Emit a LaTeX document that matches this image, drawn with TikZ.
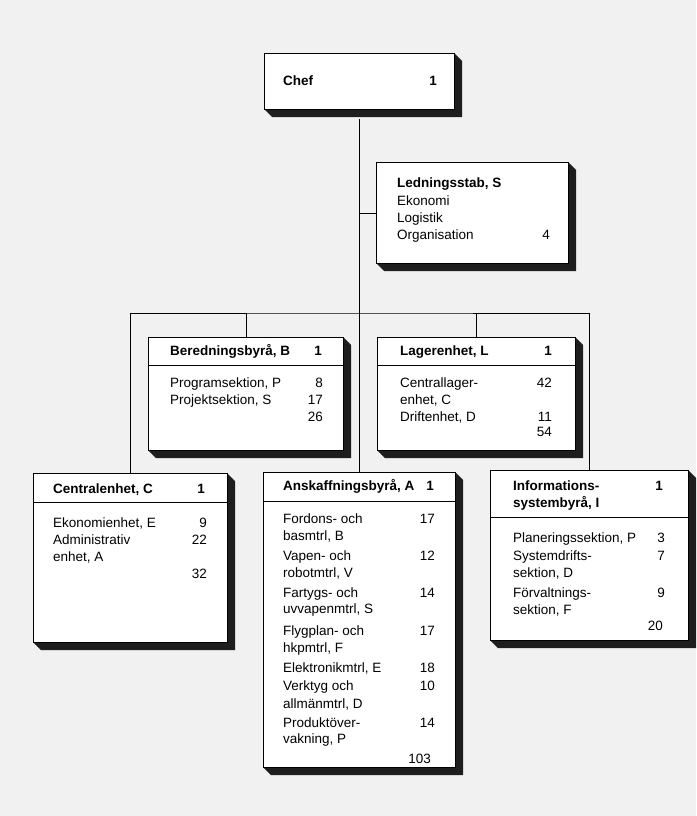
\documentclass[tikz,border=0pt]{standalone}
\usepackage{fontspec}
\setmainfont{Liberation Sans}
\usetikzlibrary{backgrounds}
\definecolor{paper}{HTML}{F1F1F1}
\definecolor{shadowc}{HTML}{1E1E1E}
\tikzset{
  orgbox/.style={draw, line width=1.1pt, fill=white, anchor=north west, inner sep=0pt},
  hdr/.style={line width=0.9pt},
  conn/.style={line width=0.8pt},
  ttl/.style={font=\fontsize{13.5pt}{16pt}\selectfont\bfseries, anchor=base west, inner sep=0pt},
  ttn/.style={font=\fontsize{13.5pt}{16pt}\selectfont\bfseries, anchor=base east, inner sep=0pt},
  txt/.style={font=\fontsize{13.5pt}{16pt}\selectfont, anchor=base west, inner sep=0pt},
  num/.style={font=\fontsize{13.5pt}{16pt}\selectfont, anchor=base east, inner sep=0pt}
}
% name, x, y, w, h
\newcommand\orgunit[5]{%
  \begin{scope}[on background layer]
    \fill[shadowc] (#2+#4,#3) -- (#2+#4+8,#3+8) -- (#2+#4+8,#3+#5+8) -- (#2+8,#3+#5+8) -- (#2,#3+#5) -- cycle;
  \end{scope}
  \node[orgbox, minimum width=#4pt, minimum height=#5pt] (#1) at (#2,#3) {};
}
\begin{document}
\begin{tikzpicture}[x=1pt,y=-1pt]
\begin{scope}[on background layer]
  \fill[paper] (0,0) rectangle (696,816);
\end{scope}
\useasboundingbox (0,0) rectangle (696,816);

% boxes
\orgunit{chef}{264}{53}{190}{56}
\orgunit{lstab}{376}{162}{192}{101}
\orgunit{bered}{148}{337}{195}{113}
\orgunit{lager}{377}{337}{198}{113}
\orgunit{central}{33}{473}{194}{169}
\orgunit{ansk}{263}{472}{192}{295}
\orgunit{info}{490}{470}{198}{170}

% header rules
\draw[hdr] (bered.west |- 0,365) -- (bered.east |- 0,365);
\draw[hdr] (lager.west |- 0,365) -- (lager.east |- 0,365);
\draw[hdr] (central.west |- 0,502) -- (central.east |- 0,502);
\draw[hdr] (ansk.west |- 0,501) -- (ansk.east |- 0,501);
\draw[hdr] (info.west |- 0,517) -- (info.east |- 0,517);

% connectors
\coordinate (bar) at (359,313);
\draw[conn] ([yshift=-9pt]chef.south) -- (ansk.north);
\draw[conn] (lstab.west) -- (lstab.west -| chef.south);
\draw[conn] (central.north) |- (bar) -| (info.north);
\draw[conn] (bered.north) -- (bered.north |- bar);
\draw[conn] (lager.north) -- (lager.north |- bar);

% Chef
\node[ttl] (chefT) at (283,85) {Chef};
\node[ttn] (chefN) at (437,85) {1};

% Ledningsstab
\node[ttl] (lsT) at (397,187) {Ledningsstab, S};
\node[txt] (ls1) at (397,205) {Ekonomi};
\node[txt] (ls2) at (397,222) {Logistik};
\node[txt] (ls3) at (397,239) {Organisation};
\node[num] (lsN) at (550,239) {4};

% Beredningsbyrå
\node[ttl] (brT) at (170,355) {Beredningsbyrå, B};
\node[ttn] (brN) at (322,355) {1};
\node[txt] (br1) at (170,387) {Programsektion, P};
\node[num] (br1n) at (323,387) {8};
\node[txt] (br2) at (170,404) {Projektsektion, S};
\node[num] (br2n) at (323,404) {17};
\node[num] (brS) at (323,421) {26};

% Lagerenhet
\node[ttl] (lgT) at (400,355) {Lagerenhet, L};
\node[ttn] (lgN) at (552,355) {1};
\node[txt] (lg1) at (400,387) {Centrallager-};
\node[num] (lg1n) at (552,387) {42};
\node[txt] (lg1b) at (400,404) {enhet, C};
\node[txt] (lg2) at (400,421) {Driftenhet, D};
\node[num] (lg2n) at (552,421) {11};
\node[num] (lgS) at (552,436) {54};

% Centralenhet
\node[ttl] (ceT) at (53,493) {Centralenhet, C};
\node[ttn] (ceN) at (205,493) {1};
\node[txt] (ce1) at (53,527) {Ekonomienhet, E};
\node[num] (ce1n) at (207,527) {9};
\node[txt] (ce2) at (53,544) {Administrativ};
\node[num] (ce2n) at (207,544) {22};
\node[txt] (ce2b) at (53,561) {enhet, A};
\node[num] (ceS) at (207,578) {32};

% Anskaffningsbyrå
\node[ttl] (anT) at (283,490) {Anskaffningsbyrå, A};
\node[ttn] (anN) at (434,490) {1};
\node[txt] (an1) at (283,523) {Fordons- och};
\node[num] (an1n) at (435,523) {17};
\node[txt] (an1b) at (283,540) {basmtrl, B};
\node[txt] (an2) at (283,560) {Vapen- och};
\node[num] (an2n) at (435,560) {12};
\node[txt] (an2b) at (283,577) {robotmtrl, V};
\node[txt] (an3) at (283,597) {Fartygs- och};
\node[num] (an3n) at (435,597) {14};
\node[txt] (an3b) at (283,613) {uvvapenmtrl, S};
\node[txt] (an4) at (283,635) {Flygplan- och};
\node[num] (an4n) at (435,635) {17};
\node[txt] (an4b) at (283,652) {hkpmtrl, F};
\node[txt] (an5) at (283,672) {Elektronikmtrl, E};
\node[num] (an5n) at (435,672) {18};
\node[txt] (an6) at (283,690) {Verktyg och};
\node[num] (an6n) at (435,690) {10};
\node[txt] (an6b) at (283,708) {allmänmtrl, D};
\node[txt] (an7) at (283,727) {Produktöver-};
\node[num] (an7n) at (435,727) {14};
\node[txt] (an7b) at (283,743) {vakning, P};
\node[num] (anS) at (431,763) {103};

% Informationssystembyrå
\node[ttl] (inT) at (513,490) {Informations-};
\node[ttl] (inTb) at (513,507) {systembyrå, I};
\node[ttn] (inN) at (663,490) {1};
\node[txt] (in1) at (513,542) {Planeringssektion, P};
\node[num] (in1n) at (665,542) {3};
\node[txt] (in2) at (513,560) {Systemdrifts-};
\node[num] (in2n) at (665,560) {7};
\node[txt] (in2b) at (513,577) {sektion, D};
\node[txt] (in3) at (513,597) {Förvaltnings-};
\node[num] (in3n) at (665,597) {9};
\node[txt] (in3b) at (513,614) {sektion, F};
\node[num] (inS) at (663,630) {20};
\end{tikzpicture}
\end{document}
